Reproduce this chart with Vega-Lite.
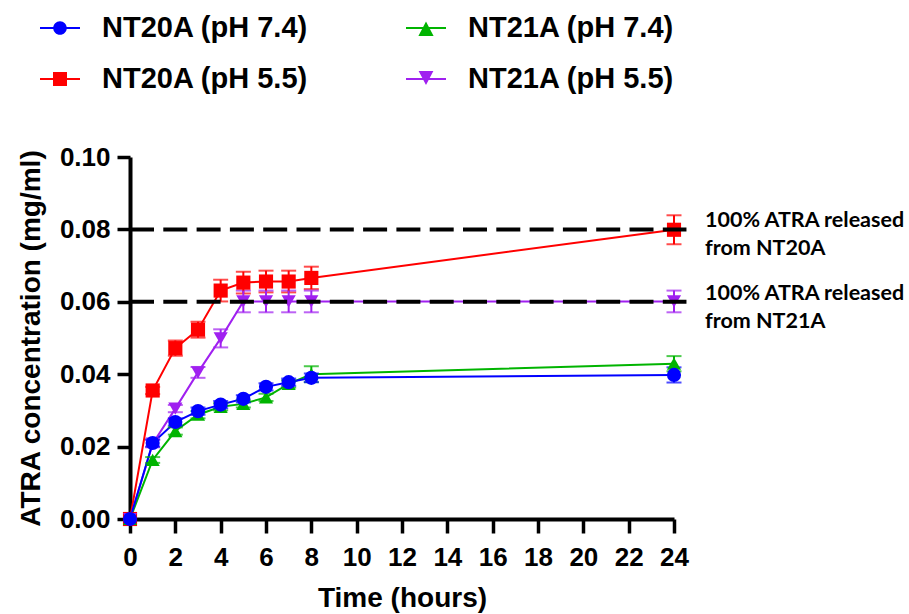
{
  "$schema": "https://vega.github.io/schema/vega-lite/v6.json",
  "width": 544,
  "height": 362,
  "autosize": {"type": "none"},
  "padding": {"left": 130, "top": 157, "right": 235, "bottom": 95},
  "background": "white",
  "config": {"view": {"stroke": null}, "font": "Liberation Sans"},
  "datasets": {
    "d": [
      {"s": "NT20A (pH 5.5)", "t": 0, "v": 0, "e": 0},
      {"s": "NT20A (pH 5.5)", "t": 1, "v": 0.0355, "e": 0.001},
      {"s": "NT20A (pH 5.5)", "t": 2, "v": 0.0472, "e": 0.0021},
      {"s": "NT20A (pH 5.5)", "t": 3, "v": 0.0523, "e": 0.0022},
      {"s": "NT20A (pH 5.5)", "t": 4, "v": 0.0631, "e": 0.003},
      {"s": "NT20A (pH 5.5)", "t": 5, "v": 0.0653, "e": 0.003},
      {"s": "NT20A (pH 5.5)", "t": 6, "v": 0.0656, "e": 0.003},
      {"s": "NT20A (pH 5.5)", "t": 7, "v": 0.0656, "e": 0.003},
      {"s": "NT20A (pH 5.5)", "t": 8, "v": 0.0666, "e": 0.0031},
      {"s": "NT20A (pH 5.5)", "t": 24, "v": 0.0799, "e": 0.004},
      {"s": "NT21A (pH 5.5)", "t": 0, "v": 0, "e": 0},
      {"s": "NT21A (pH 5.5)", "t": 1, "v": 0.0208, "e": 0.001},
      {"s": "NT21A (pH 5.5)", "t": 2, "v": 0.0305, "e": 0.001},
      {"s": "NT21A (pH 5.5)", "t": 3, "v": 0.0405, "e": 0.0015},
      {"s": "NT21A (pH 5.5)", "t": 4, "v": 0.0499, "e": 0.0025},
      {"s": "NT21A (pH 5.5)", "t": 5, "v": 0.0601, "e": 0.003},
      {"s": "NT21A (pH 5.5)", "t": 6, "v": 0.0601, "e": 0.003},
      {"s": "NT21A (pH 5.5)", "t": 7, "v": 0.0601, "e": 0.003},
      {"s": "NT21A (pH 5.5)", "t": 8, "v": 0.0601, "e": 0.003},
      {"s": "NT21A (pH 5.5)", "t": 24, "v": 0.0601, "e": 0.003},
      {"s": "NT21A (pH 7.4)", "t": 0, "v": 0, "e": 0},
      {"s": "NT21A (pH 7.4)", "t": 1, "v": 0.0163, "e": 0.0008},
      {"s": "NT21A (pH 7.4)", "t": 2, "v": 0.0243, "e": 0.001},
      {"s": "NT21A (pH 7.4)", "t": 3, "v": 0.0288, "e": 0.001},
      {"s": "NT21A (pH 7.4)", "t": 4, "v": 0.031, "e": 0.001},
      {"s": "NT21A (pH 7.4)", "t": 5, "v": 0.0318, "e": 0.001},
      {"s": "NT21A (pH 7.4)", "t": 6, "v": 0.0336, "e": 0.001},
      {"s": "NT21A (pH 7.4)", "t": 7, "v": 0.0373, "e": 0.001},
      {"s": "NT21A (pH 7.4)", "t": 8, "v": 0.04, "e": 0.0022},
      {"s": "NT21A (pH 7.4)", "t": 24, "v": 0.0429, "e": 0.0021},
      {"s": "NT20A (pH 7.4)", "t": 0, "v": 0, "e": 0},
      {"s": "NT20A (pH 7.4)", "t": 1, "v": 0.021, "e": 0.001},
      {"s": "NT20A (pH 7.4)", "t": 2, "v": 0.0268, "e": 0.001},
      {"s": "NT20A (pH 7.4)", "t": 3, "v": 0.0298, "e": 0.001},
      {"s": "NT20A (pH 7.4)", "t": 4, "v": 0.0316, "e": 0.001},
      {"s": "NT20A (pH 7.4)", "t": 5, "v": 0.0332, "e": 0.001},
      {"s": "NT20A (pH 7.4)", "t": 6, "v": 0.0365, "e": 0.001},
      {"s": "NT20A (pH 7.4)", "t": 7, "v": 0.0378, "e": 0.001},
      {"s": "NT20A (pH 7.4)", "t": 8, "v": 0.039, "e": 0.0012},
      {"s": "NT20A (pH 7.4)", "t": 24, "v": 0.0398, "e": 0.0021}
    ],
    "ref": [
      {"v": 0.08, "t0": 0, "t1": 24.55},
      {"v": 0.06, "t0": 0, "t1": 24.55}
    ],
    "ann": [
      {"t": 24, "v": 0.08, "label": "100% ATRA released\nfrom NT20A"},
      {"t": 24, "v": 0.06, "label": "100% ATRA released\nfrom NT21A"}
    ]
  },
  "resolve": {"scale": {"color": "independent", "shape": "independent"}},
  "layer": [
    {
      "data": {"name": "d"},
      "mark": {"type": "line", "strokeWidth": 2, "clip": false},
      "encoding": {
        "x": {
          "field": "t", "type": "quantitative", "title": "Time (hours)",
          "scale": {"domain": [0, 24], "nice": false, "zero": false},
          "axis": {
            "values": [0, 2, 4, 6, 8, 10, 12, 14, 16, 18, 20, 22, 24],
            "title": "Time (hours)", "grid": false,
            "domainColor": "black", "domainWidth": 4,
            "tickColor": "black", "tickWidth": 3.5, "tickSize": 14,
            "labelFont": "Liberation Sans", "labelFontWeight": "bold", "labelFontSize": 26,
            "labelColor": "black", "labelPadding": 11, "labelFlush": false, "labelOverlap": false,
            "titleFont": "Liberation Sans", "titleFontWeight": "bold", "titleFontSize": 28,
            "titleColor": "black", "titlePadding": 14
          }
        },
        "y": {
          "field": "v", "type": "quantitative", "title": "ATRA concentration (mg/ml)",
          "scale": {"domain": [0, 0.1], "nice": false},
          "axis": {
            "values": [0, 0.02, 0.04, 0.06, 0.08, 0.1], "format": ".2f",
            "title": "ATRA concentration (mg/ml)", "grid": false,
            "domainColor": "black", "domainWidth": 4,
            "tickColor": "black", "tickWidth": 3.5, "tickSize": 13,
            "labelFont": "Liberation Sans", "labelFontWeight": "bold", "labelFontSize": 26,
            "labelColor": "black", "labelPadding": 7, "labelFlush": false, "labelOverlap": false,
            "titleFont": "Liberation Sans", "titleFontWeight": "bold", "titleFontSize": 28,
            "titleColor": "black", "titlePadding": 14
          }
        },
        "color": {
          "field": "s", "type": "nominal", "legend": null,
          "scale": {"domain": ["NT20A (pH 7.4)", "NT20A (pH 5.5)", "NT21A (pH 7.4)", "NT21A (pH 5.5)"], "range": ["#0000FF", "#FF0000", "#00B400", "#A020F0"]}
        }
      }
    },
    {
      "data": {"name": "d"},
      "transform": [{"filter": "datum.e > 0"}],
      "mark": {"type": "errorbar", "ticks": true, "size": 15, "thickness": 2},
      "encoding": {
        "x": {"field": "t", "type": "quantitative", "title": "Time (hours)"},
        "y": {"field": "v", "type": "quantitative", "title": "ATRA concentration (mg/ml)"},
        "yError": {"field": "e"},
        "color": {
          "field": "s", "type": "nominal", "legend": null,
          "scale": {"domain": ["NT20A (pH 7.4)", "NT20A (pH 5.5)", "NT21A (pH 7.4)", "NT21A (pH 5.5)"], "range": ["#0000FF", "#FF0000", "#00B400", "#A020F0"]}
        }
      }
    },
    {
      "data": {"name": "d"},
      "mark": {"type": "point", "filled": true, "size": 200, "opacity": 1, "clip": false},
      "encoding": {
        "x": {"field": "t", "type": "quantitative", "title": "Time (hours)"},
        "y": {"field": "v", "type": "quantitative", "title": "ATRA concentration (mg/ml)"},
        "color": {
          "field": "s", "type": "nominal", "legend": null,
          "scale": {"domain": ["NT20A (pH 7.4)", "NT20A (pH 5.5)", "NT21A (pH 7.4)", "NT21A (pH 5.5)"], "range": ["#0000FF", "#FF0000", "#00B400", "#A020F0"]}
        },
        "shape": {
          "field": "s", "type": "nominal", "legend": null,
          "scale": {"domain": ["NT20A (pH 7.4)", "NT20A (pH 5.5)", "NT21A (pH 7.4)", "NT21A (pH 5.5)"], "range": ["circle", "square", "triangle-up", "triangle-down"]}
        }
      }
    },
    {
      "data": {"name": "ref"},
      "mark": {"type": "rule", "color": "black", "strokeWidth": 4, "strokeDash": [24, 9.3], "clip": false},
      "encoding": {
        "x": {"field": "t0", "type": "quantitative", "title": "Time (hours)"},
        "x2": {"field": "t1"},
        "y": {"field": "v", "type": "quantitative", "title": "ATRA concentration (mg/ml)"}
      }
    },
    {
      "data": {"name": "ann"},
      "mark": {"type": "text", "align": "left", "baseline": "middle", "dx": 31, "dy": -8, "lineBreak": "\n", "lineHeight": 28, "font": "Lato", "fontWeight": "bold", "fontSize": 21.5, "color": "black", "clip": false},
      "encoding": {
        "x": {"field": "t", "type": "quantitative", "title": "Time (hours)"},
        "y": {"field": "v", "type": "quantitative", "title": "ATRA concentration (mg/ml)"},
        "text": {"field": "label", "type": "nominal"}
      }
    },
    {
      "data": {"name": "d"},
      "transform": [{"filter": "false"}],
      "mark": {"type": "point", "filled": true, "opacity": 1},
      "encoding": {
        "x": {"field": "t", "type": "quantitative", "title": "Time (hours)"},
        "y": {"field": "v", "type": "quantitative", "title": "ATRA concentration (mg/ml)"},
        "color": {
          "field": "s", "type": "nominal",
          "scale": {"domain": ["NT20A (pH 7.4)", "NT20A (pH 5.5)", "NT21A (pH 7.4)", "NT21A (pH 5.5)"], "range": ["#0000FF", "#FF0000", "#00B400", "#A020F0"]},
          "legend": {"orient": "none", "legendX": -90, "legendY": -149, "title": null, "columns": 2, "columnPadding": 97, "rowPadding": 16, "symbolSize": 1600, "symbolStrokeWidth": 0, "symbolOpacity": 1, "labelFont": "Liberation Sans", "labelFontSize": 29, "labelFontWeight": "bold", "labelColor": "black", "labelOffset": 22, "labelLimit": 500, "padding": 0}
        },
        "shape": {
          "field": "s", "type": "nominal",
          "scale": {"domain": ["NT20A (pH 7.4)", "NT20A (pH 5.5)", "NT21A (pH 7.4)", "NT21A (pH 5.5)"], "range": [
            "M-1,-0.05L1,-0.05L1,0.05L-1,0.05Z M0.34,0A0.34,0.34,0,1,1,-0.34,0A0.34,0.34,0,1,1,0.34,0Z",
            "M-1,-0.05L1,-0.05L1,0.05L-1,0.05Z M-0.35,-0.35L0.35,-0.35L0.35,0.35L-0.35,0.35Z",
            "M-1,-0.05L1,-0.05L1,0.05L-1,0.05Z M0,-0.32L0.38,0.4L-0.38,0.4Z",
            "M-1,-0.05L1,-0.05L1,0.05L-1,0.05Z M-0.37,-0.4L0.37,-0.4L0,0.3Z"
          ]},
          "legend": {"orient": "none", "legendX": -90, "legendY": -149, "title": null, "columns": 2, "columnPadding": 97, "rowPadding": 16, "symbolSize": 1600, "symbolStrokeWidth": 0, "symbolOpacity": 1, "labelFont": "Liberation Sans", "labelFontSize": 29, "labelFontWeight": "bold", "labelColor": "black", "labelOffset": 22, "labelLimit": 500, "padding": 0}
        }
      }
    }
  ]
}
